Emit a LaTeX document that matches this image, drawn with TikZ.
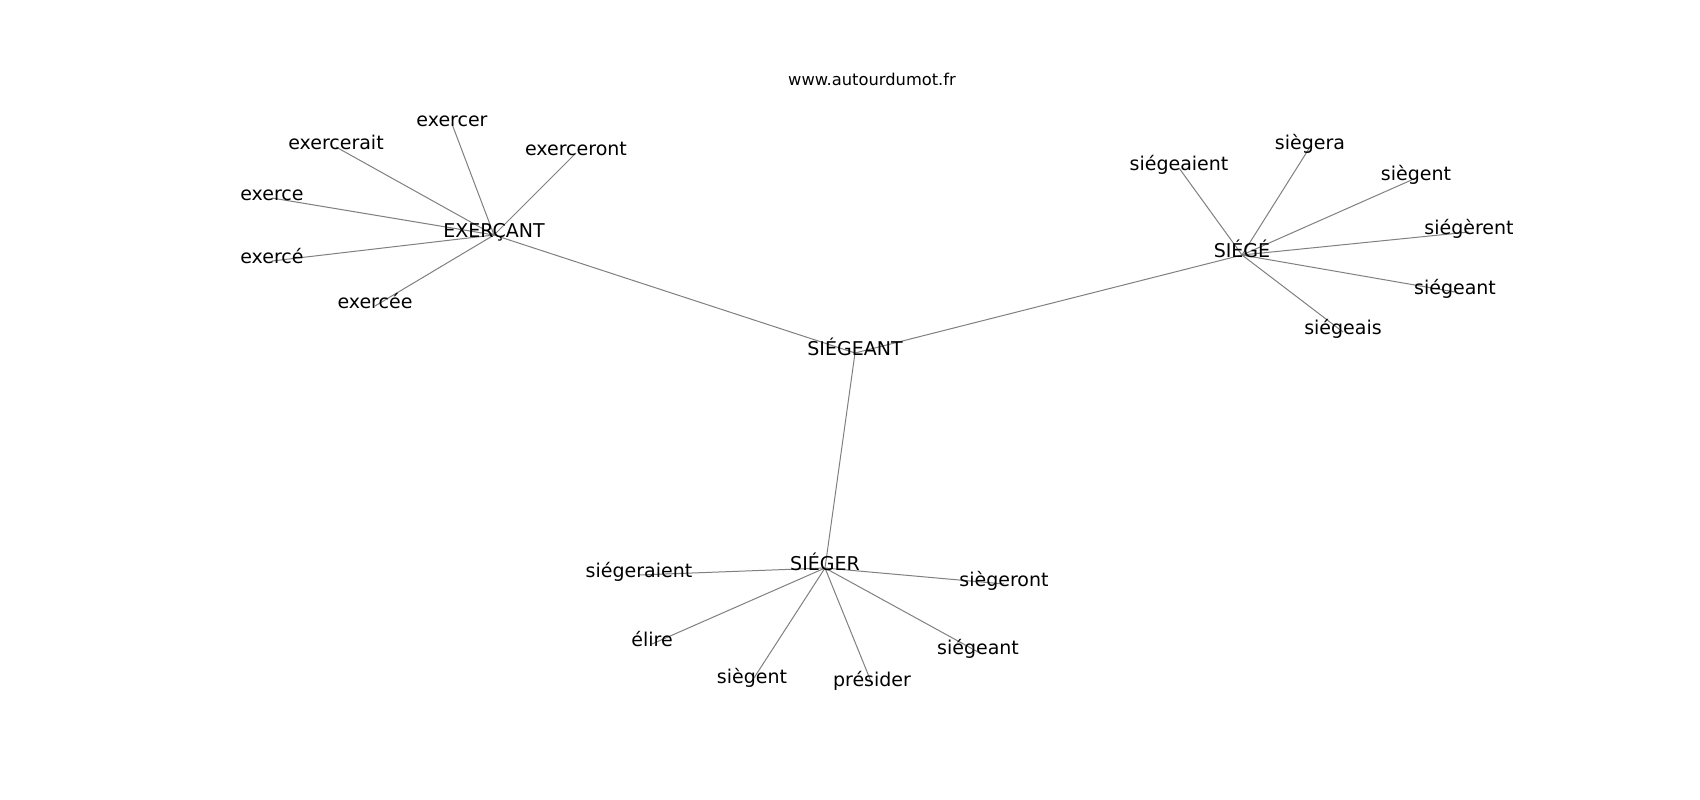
\documentclass[tikz,border=0pt]{standalone}
\usepackage{fontspec}
\setmainfont{DejaVu Sans}
\usetikzlibrary{backgrounds}
\tikzset{
  word/.style={inner sep=0pt, anchor=center, text height=0.74em, text depth=0.22em, font=\fontsize{19}{22}\selectfont},
  hub/.style={word},
  title/.style={inner sep=0pt, anchor=center, text height=0.74em, text depth=0.22em, font=\fontsize{16.3}{19}\selectfont},
  link/.style={draw=black!50, line width=1pt}
}
\begin{document}
\begin{tikzpicture}[x=1pt,y=-1pt]
\node[title] (t) at (872,83) {www.autourdumot.fr};
% hubs
\node[hub] (siegeant) at (855,353) {SIÉGEANT};
\node[hub] (exercant) at (494,235) {EXERÇANT};
\node[hub] (siege) at (1242,255) {SIÉGÉ};
\node[hub] (sieger) at (825,568) {SIÉGER};
% EXERÇANT leaves
\node[word] (e1) at (452,124) {exercer};
\node[word] (e2) at (336,147) {exercerait};
\node[word] (e3) at (576,153) {exerceront};
\node[word] (e4) at (272,198) {exerce};
\node[word] (e5) at (272,261) {exercé};
\node[word] (e6) at (375,306) {exercée};
% SIÉGÉ leaves
\node[word] (s1) at (1179,168) {siégeaient};
\node[word] (s2) at (1310,147) {siègera};
\node[word] (s3) at (1416,178) {siègent};
\node[word] (s4) at (1469,232) {siégèrent};
\node[word] (s5) at (1455,292) {siégeant};
\node[word] (s6) at (1343,332) {siégeais};
% SIÉGER leaves
\node[word] (r1) at (639,575) {siégeraient};
\node[word] (r2) at (1004,584) {siègeront};
\node[word] (r3) at (652,644) {élire};
\node[word] (r4) at (752,681) {siègent};
\node[word] (r5) at (872,684) {présider};
\node[word] (r6) at (978,652) {siégeant};
\begin{scope}[on background layer]
\fill[white] (0,0) rectangle (1700,800);
\foreach \a/\b in {siegeant/exercant, siegeant/siege, siegeant/sieger,
  exercant/e1, exercant/e2, exercant/e3, exercant/e4, exercant/e5, exercant/e6,
  siege/s1, siege/s2, siege/s3, siege/s4, siege/s5, siege/s6,
  sieger/r1, sieger/r2, sieger/r3, sieger/r4, sieger/r5, sieger/r6}
  \draw[link] (\a.center) -- (\b.center);
\end{scope}
\end{tikzpicture}
\end{document}
